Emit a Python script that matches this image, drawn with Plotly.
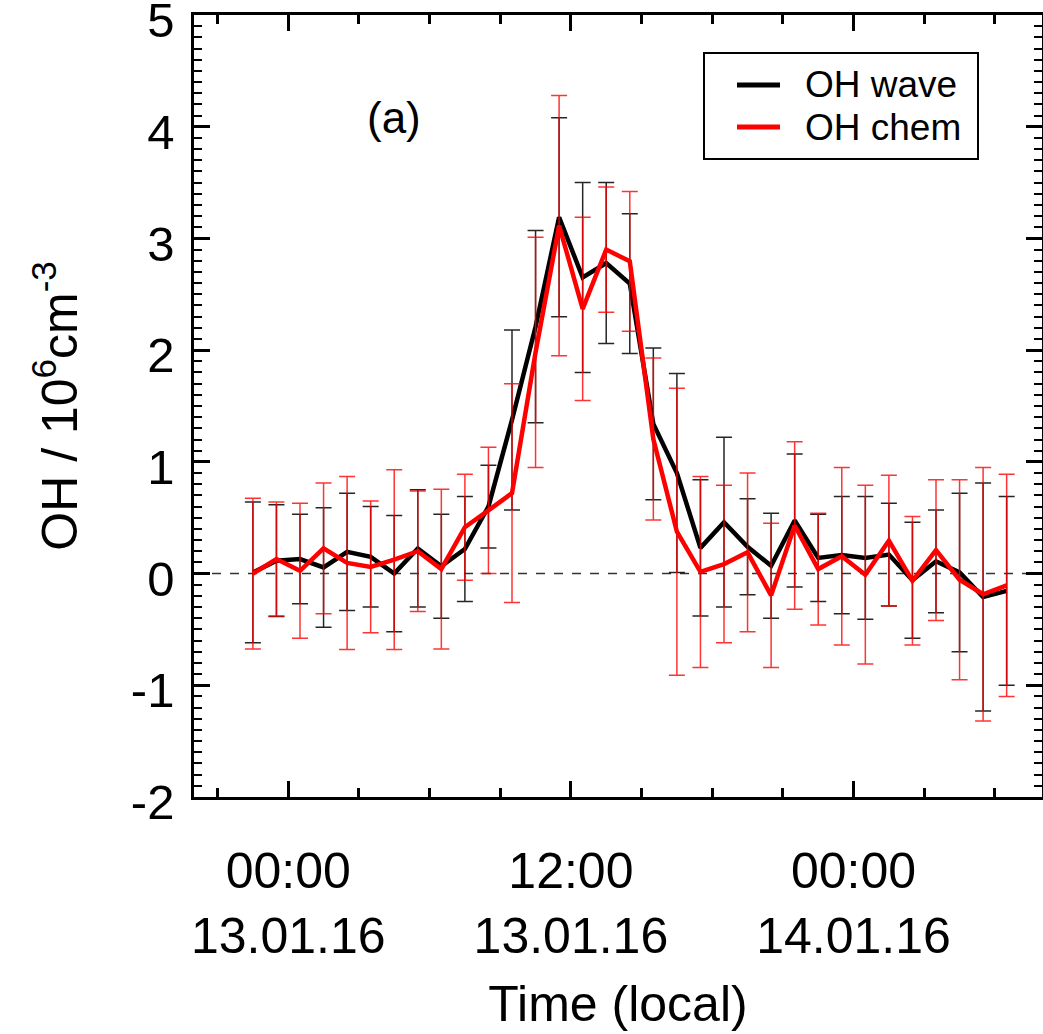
import plotly.graph_objects as go

# Hours relative to 13.01.16 00:00 (local time)
hours = [-1.5, -0.5, 0.5, 1.5, 2.5, 3.5, 4.5, 5.5, 6.5, 7.5, 8.5, 9.5, 10.5, 11.5,
         12.5, 13.5, 14.5, 15.5, 16.5, 17.5, 18.5, 19.5, 20.5, 21.5, 22.5, 23.5,
         24.5, 25.5, 26.5, 27.5, 28.5, 29.5, 30.5]

oh_wave = [0.01, 0.115, 0.13, 0.055, 0.195, 0.15, 0.0, 0.225, 0.065, 0.22, 0.60,
           1.375, 2.21, 3.19, 2.65, 2.78, 2.595, 1.34, 0.90, 0.23, 0.46, 0.24,
           0.07, 0.475, 0.14, 0.165, 0.14, 0.17, -0.06, 0.11, 0.01, -0.21, -0.155]
oh_wave_err = [0.63, 0.50, 0.40, 0.535, 0.525, 0.45, 0.52, 0.525, 0.465, 0.47, 0.37,
               0.805, 0.86, 0.89, 0.85, 0.72, 0.625, 0.68, 0.89, 0.61, 0.76, 0.43,
               0.47, 0.595, 0.39, 0.525, 0.55, 0.46, 0.52, 0.46, 0.71, 1.02, 0.845]

oh_chem = [0.0, 0.13, 0.025, 0.225, 0.095, 0.06, 0.125, 0.20, 0.04, 0.415, 0.565,
           0.72, 1.98, 3.115, 2.37, 2.90, 2.795, 1.205, 0.375, 0.015, 0.085, 0.19,
           -0.195, 0.43, 0.04, 0.155, -0.01, 0.295, -0.065, 0.21, -0.055, -0.185, -0.105]
oh_chem_err = [0.675, 0.51, 0.605, 0.585, 0.775, 0.59, 0.805, 0.54, 0.715, 0.475, 0.565,
               0.98, 1.03, 1.165, 0.82, 0.56, 0.625, 0.725, 1.285, 0.855, 0.705, 0.71,
               0.645, 0.75, 0.50, 0.795, 0.80, 0.585, 0.575, 0.63, 0.895, 1.135, 0.995]

series_names = ["OH wave", "OH chem"]
series_colors = ["black", "#ff0000"]

x_tick_vals = [0, 12, 24]
x_tick_text = ["00:00<br>13.01.16", "12:00<br>13.01.16", "00:00<br>14.01.16"]
y_tick_vals = [-2, -1, 0, 1, 2, 3, 4, 5]
y_tick_text = ["-2", "-1", "0", "1", "2", "3", "4", "5"]

FONT = "Liberation Sans, Arial, Helvetica, sans-serif"
X_RANGE = [-4, 32]
Y_RANGE = [-2, 5]

W, H = 1043, 1034
L, R, T, B = 194, 1042, 15, 797   # plot-area edges in pixels


def px_x(px):
    return (px - L) / (R - L)


def px_y(py):
    return (B - py) / (B - T)


fig = go.Figure()

for name, color, vals, errs in [(series_names[0], series_colors[0], oh_wave, oh_wave_err),
                                (series_names[1], series_colors[1], oh_chem, oh_chem_err)]:
    err_color = "rgba(0,0,0,0.85)" if color == "black" else "rgba(255,0,0,0.8)"
    fig.add_trace(go.Scatter(
        x=hours, y=vals, mode="lines", name=name, showlegend=False,
        line=dict(color=color, width=4.5),
        error_y=dict(type="data", array=errs, visible=True,
                     color=err_color, thickness=1.5, width=8),
    ))

# invisible carrier trace so the mirrored (top/right) tick axes are drawn
fig.add_trace(go.Scatter(
    x=hours, y=oh_wave, mode="lines", line=dict(width=0, color="rgba(0,0,0,0)"),
    xaxis="x2", yaxis="y2", showlegend=False, hoverinfo="skip",
))

# zero reference line
fig.add_shape(type="line", xref="paper", x0=0, x1=1, yref="y", y0=0, y1=0,
              line=dict(color="#333333", width=1.5, dash="dash"), layer="below")

# legend box (drawn by hand to match the original layout)
fig.add_shape(type="rect", xref="paper", yref="paper",
              x0=px_x(704), x1=px_x(978), y0=px_y(159), y1=px_y(53),
              line=dict(color="black", width=2), fillcolor="white", layer="above")
for i, (name, color) in enumerate(zip(series_names, series_colors)):
    yc = 85 + 42 * i
    fig.add_shape(type="line", xref="paper", yref="paper",
                  x0=px_x(737), x1=px_x(780), y0=px_y(yc), y1=px_y(yc),
                  line=dict(color=color, width=5), layer="above")
    fig.add_annotation(x=px_x(803), y=px_y(yc), xref="paper", yref="paper",
                       text=name, showarrow=False, xanchor="left", yanchor="middle",
                       font=dict(size=37, color="black", family=FONT))

fig.add_annotation(x=px_x(394), y=px_y(118), xref="paper", yref="paper",
                   text="(a)", showarrow=False, font=dict(size=44, color="black", family=FONT),
                   xanchor="center", yanchor="middle")

tick_common = dict(ticks="inside", tickwidth=2.5, tickcolor="black",
                   showgrid=False, zeroline=False, automargin=False)

fig.update_layout(
    width=W, height=H,
    margin=dict(l=L, r=W - R, t=T, b=H - B),
    paper_bgcolor="white", plot_bgcolor="white",
    font=dict(family=FONT, color="black", size=50),
    showlegend=False,
    xaxis=dict(
        range=X_RANGE,
        tickmode="array", tickvals=x_tick_vals, ticktext=x_tick_text, ticklen=16,
        minor=dict(tickmode="linear", tick0=0, dtick=3, ticks="inside",
                   ticklen=9, tickwidth=2.5, tickcolor="black"),
        showline=True, linecolor="black", linewidth=2.5, mirror=True,
        tickfont=dict(size=50, family=FONT),
        ticklabelstandoff=28, ticklabeloverflow="allow",
        title=dict(text="Time (local)", font=dict(size=50, family=FONT), standoff=24),
        **tick_common,
    ),
    yaxis=dict(
        range=Y_RANGE,
        tickmode="array", tickvals=y_tick_vals, ticktext=y_tick_text, ticklen=16,
        minor=dict(tickmode="linear", tick0=0, dtick=0.1, ticks="inside",
                   ticklen=8, tickwidth=2, tickcolor="black"),
        showline=True, linecolor="black", linewidth=2.5, mirror=True,
        tickfont=dict(size=49, family=FONT),
        ticklabelstandoff=7, ticklabelshift=5, ticklabeloverflow="allow",
        title=dict(text="OH / 10<sup>6</sup>cm<sup>-3</sup>", font=dict(size=50, family=FONT),
                   standoff=38),
        **tick_common,
    ),
    xaxis2=dict(
        range=X_RANGE, overlaying="x", side="top", anchor="y",
        tickmode="array", tickvals=x_tick_vals, ticklen=16, showticklabels=False,
        minor=dict(tickmode="linear", tick0=0, dtick=3, ticks="inside",
                   ticklen=9, tickwidth=2.5, tickcolor="black"),
        **tick_common,
    ),
    yaxis2=dict(
        range=Y_RANGE, overlaying="y", side="right", anchor="x",
        tickmode="array", tickvals=y_tick_vals, ticklen=16, showticklabels=False,
        minor=dict(tickmode="linear", tick0=0, dtick=0.1, ticks="inside",
                   ticklen=8, tickwidth=2, tickcolor="black"),
        **tick_common,
    ),
)

# remove the default page margin so the figure sits at the window's top-left corner
fig.write_html("out.html", config={"displayModeBar": False},
               post_script="document.body.style.margin='0';")
